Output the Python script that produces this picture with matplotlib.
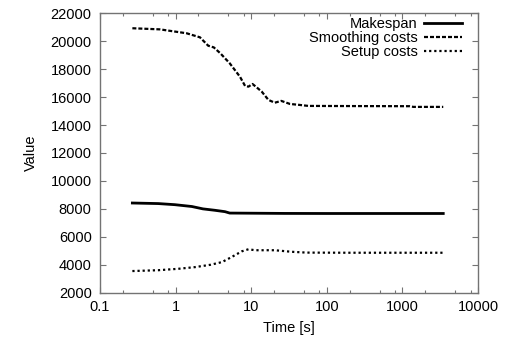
import numpy as np
import matplotlib
matplotlib.use("Agg")
import matplotlib.pyplot as plt
from matplotlib.ticker import LogLocator, FixedLocator, FuncFormatter, NullFormatter

plt.rcParams['font.family'] = ['Liberation Sans', 'DejaVu Sans']
plt.rcParams['font.size'] = 10.5

# Makespan
t_make = [0.268, 0.59, 0.98, 1.64, 2.3, 3.3, 4.5, 5.2, 10.1, 27.8, 100, 1000, 3470]
v_make = [8420, 8380, 8300, 8170, 8000, 7900, 7800, 7700, 7690, 7675, 7670, 7670, 7670]

# Smoothing costs
t_smooth = [0.268, 0.62, 1.4, 2.1, 2.7, 3.2, 3.9, 5.2, 7.1, 8.3, 9.2, 10.4, 11.8,
            13.8, 16.9, 20.5, 25, 32.6, 44, 57, 200, 1240, 1400, 3470]
v_smooth = [20930, 20850, 20570, 20280, 19680, 19560, 19140, 18420, 17460, 16800,
            16750, 16940, 16700, 16390, 15800, 15600, 15730, 15510, 15440, 15370,
            15360, 15350, 15300, 15300]

# Setup costs
t_setup = [0.268, 0.59, 1.08, 1.8, 2.9, 4.1, 5.5, 7.5, 9.2, 11.2, 20.5, 34, 54, 200, 3470]
v_setup = [3550, 3610, 3710, 3830, 4000, 4190, 4550, 4960, 5110, 5040, 5040, 4930, 4870,
           4860, 4860]

x_ticks = [0.1, 1, 10, 100, 1000, 10000]
y_ticks = list(range(2000, 22001, 2000))

fig = plt.figure(figsize=(5.17, 3.38), dpi=100)
ax = fig.add_axes([100 / 517, 1 - 292.7 / 338, 378 / 517, 279.4 / 338])

ax.plot(t_make, v_make, color='black', lw=2.0, label='Makespan')
ax.plot(t_smooth, v_smooth, color='black', lw=1.6, linestyle=(0, (1.8, 0.9)),
        label='Smoothing costs')
ax.plot(t_setup, v_setup, color='black', lw=1.6, linestyle=(0, (1, 1.3)),
        label='Setup costs')

ax.set_xscale('log')
ax.set_xlim(0.1, 10000)
ax.set_ylim(2000, 22000)
ax.xaxis.set_major_locator(FixedLocator(x_ticks))
ax.xaxis.set_major_formatter(FuncFormatter(lambda v, p: '%g' % v))
ax.xaxis.set_minor_locator(LogLocator(base=10, subs=(2, 5, 8)))
ax.xaxis.set_minor_formatter(NullFormatter())
ax.set_yticks(y_ticks)

for s in ax.spines.values():
    s.set_color('0.45')
    s.set_linewidth(1.0)
ax.tick_params(which='both', direction='in', top=True, right=True, color='0.45', width=0.8)
ax.tick_params(which='major', length=4.3)
ax.tick_params(which='minor', length=2.2)
ax.tick_params(axis='y', pad=6)
ax.tick_params(axis='x', pad=5)

ax.set_xlabel('Time [s]', labelpad=5)
ax.set_ylabel('Value', labelpad=9)

ax.legend(loc='upper right', frameon=False, markerfirst=False, handlelength=2.6,
          handletextpad=0.45, labelspacing=0.0, borderaxespad=0.0, borderpad=0.0,
          bbox_to_anchor=(0.958, 0.985))

fig.savefig('out.png', dpi=100)
